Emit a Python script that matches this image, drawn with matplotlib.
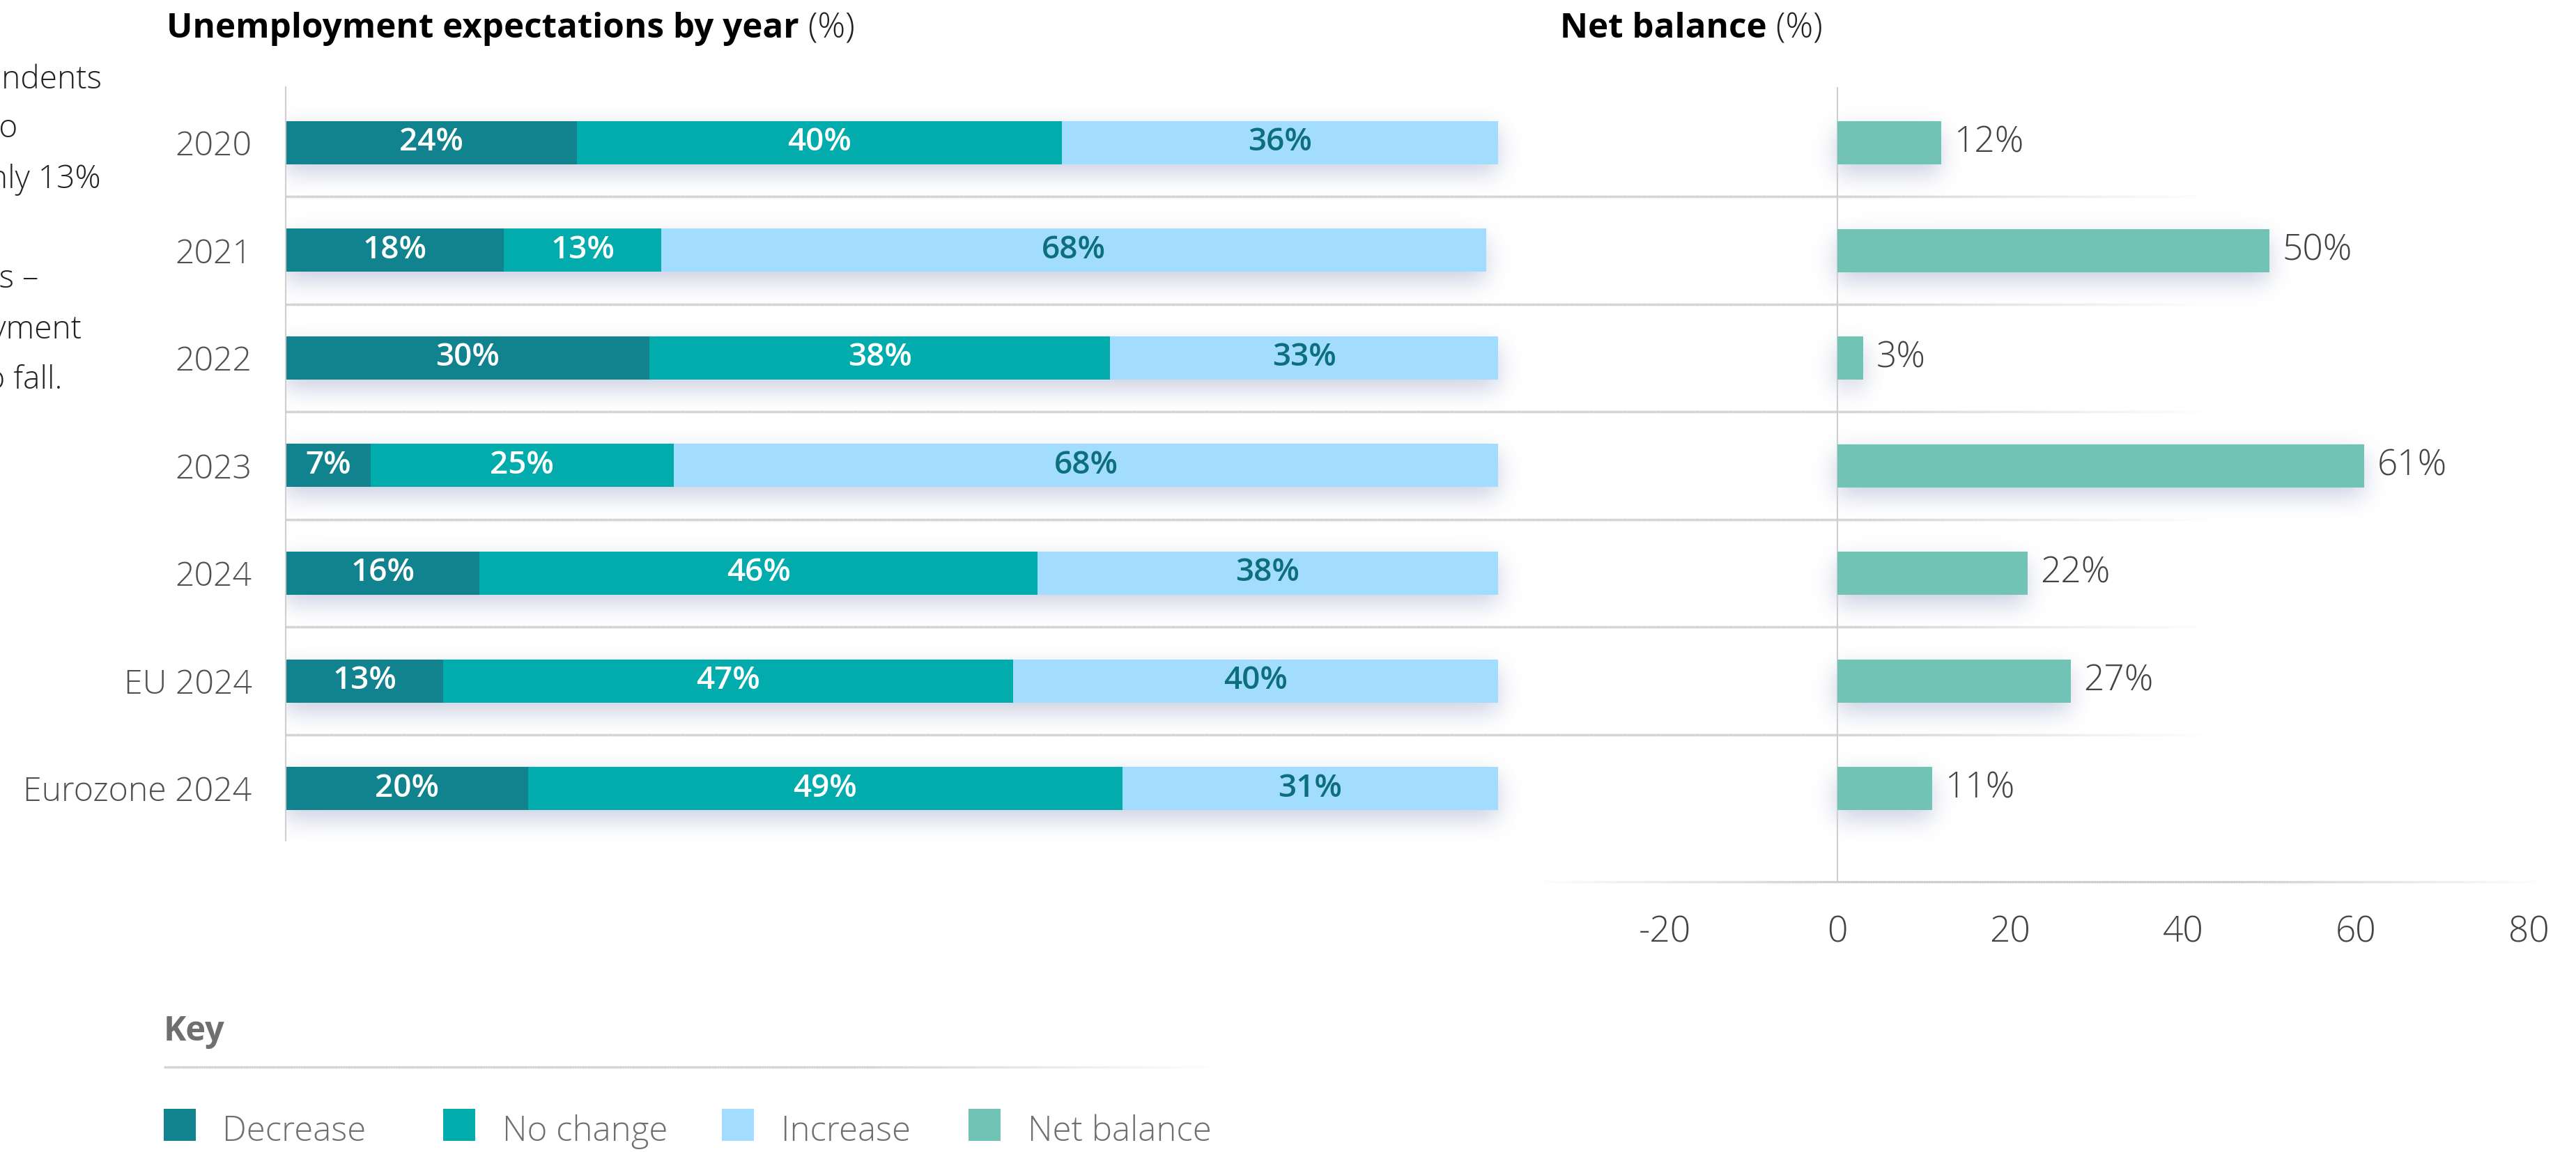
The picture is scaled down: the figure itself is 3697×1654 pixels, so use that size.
import numpy as np
import matplotlib
matplotlib.use("Agg")
import matplotlib.pyplot as plt
from matplotlib.collections import LineCollection
from matplotlib.colors import to_rgba
from matplotlib.patches import Rectangle

# ---- data -------------------------------------------------------------
categories = ["2020", "2021", "2022", "2023", "2024", "EU 2024", "Eurozone 2024"]
decrease = [24, 18, 30, 7, 16, 13, 20]
no_change = [40, 13, 38, 25, 46, 47, 49]
increase = [36, 68, 33, 68, 38, 40, 31]
net_balance = [12, 50, 3, 61, 22, 27, 11]
net_ticks = [-20, 0, 20, 40, 60, 80]
legend_labels = ["Decrease", "No change", "Increase", "Net balance"]

# ---- style ------------------------------------------------------------
C_DEC = "#10838F"
C_NOC = "#02ACAD"
C_INC = "#A2DCFE"
C_NET = "#71C3B5"
C_INC_TXT = "#0C6F7B"
GRID = "#D3D3D3"
AXLINE = "#CFCFCF"
FONT = "Open Sans"

W, H, DPI = 3698, 1654, 200
fig = plt.figure(figsize=(W / DPI, H / DPI), dpi=DPI)
fig.patch.set_facecolor("white")


def fx(x):
    return x / W


def fy(y):
    return 1 - y / H


# background layer in pixel coordinates (shadows, rules)
bg = fig.add_axes([0, 0, 1, 1], zorder=0)
bg.set_xlim(0, W)
bg.set_ylim(H, 0)
bg.axis("off")

ROW = 154.5
Y0 = 205
BAR_H = 62 / ROW

# ---- left panel: stacked shares (clipped at 100%) ---------------------
ax = fig.add_axes([fx(410), fy(1207), (2150 - 410) / W, (1207 - 125) / H], zorder=2)
ax.patch.set_alpha(0)
ax.set_xlim(0, 100)
ax.set_ylim((1207 - Y0) / ROW, -(Y0 - 125) / ROW)

y = np.arange(len(categories))
dec = np.array(decrease, float)
noc = np.array(no_change, float)
inc = np.array(increase, float)

b1 = ax.barh(y, dec, height=BAR_H, color=C_DEC, linewidth=0)
b2 = ax.barh(y, noc, left=dec, height=BAR_H, color=C_NOC, linewidth=0)
b3 = ax.barh(y, inc, left=dec + noc, height=BAR_H, color=C_INC, linewidth=0)

lab_kw = dict(ha="center", va="center", fontsize=16.5, family=FONT, fontweight="semibold")
for i in range(len(categories)):
    inc_end = min(dec[i] + noc[i] + inc[i], 100)
    ax.text(dec[i] / 2, y[i], f"{decrease[i]}%", color="white", **lab_kw)
    ax.text(dec[i] + noc[i] / 2, y[i], f"{no_change[i]}%", color="white", **lab_kw)
    ax.text((dec[i] + noc[i] + inc_end) / 2, y[i], f"{increase[i]}%", color=C_INC_TXT, **lab_kw)

ax.set_yticks(y)
ax.set_yticklabels(categories, family=FONT, fontweight="light", fontsize=17.4, color="#505050")
ax.tick_params(axis="y", length=0, pad=17.5)
ax.set_xticks([])
for s in ["top", "right", "bottom"]:
    ax.spines[s].set_visible(False)
ax.spines["left"].set_color(AXLINE)
ax.spines["left"].set_linewidth(0.75)

# ---- right panel: net balance ----------------------------------------
ZERO_X = 2637
PX_PER_UNIT = 12.4
ax2 = fig.add_axes([fx(2200), fy(1266), (3655 - 2200) / W, (1266 - 125) / H], zorder=2)
ax2.patch.set_alpha(0)
ax2.set_xlim((2200 - ZERO_X) / PX_PER_UNIT, (3655 - ZERO_X) / PX_PER_UNIT)
ax2.set_ylim((1266 - Y0) / ROW, -(Y0 - 125) / ROW)
b4 = ax2.barh(y, net_balance, height=BAR_H, color=C_NET, linewidth=0)
for i, v in enumerate(net_balance):
    ax2.annotate(f"{v}%", xy=(v, y[i]), xytext=(6.5, 0), textcoords="offset points",
                 ha="left", va="center", fontsize=18.5, family=FONT,
                 fontweight="light", color="#444444")
ax2.axvline(0, color=AXLINE, lw=0.75, zorder=0)
ax2.set_yticks([])
ax2.set_xticks(net_ticks)
ax2.set_xticklabels([str(t) for t in net_ticks], family=FONT, fontweight="light",
                    fontsize=18.5, color="#444444")
ax2.tick_params(axis="x", length=0, pad=17)
for s in ax2.spines.values():
    s.set_visible(False)


# ---- rules ------------------------------------------------------------
def faded_hline(yp, x0, x1, fade_in, fade_out, color, lw, n=400, z=3):
    xs = np.linspace(x0, x1, n + 1)
    mid = (xs[:-1] + xs[1:]) / 2
    a = np.ones(n)
    if fade_in:
        a = np.minimum(a, np.clip((mid - x0) / fade_in, 0, 1))
    if fade_out:
        a = np.minimum(a, np.clip((x1 - mid) / fade_out, 0, 1))
    segs = [[(xs[k], yp), (xs[k + 1], yp)] for k in range(n)]
    cols = [to_rgba(color, ak) for ak in a]
    bg.add_collection(LineCollection(segs, colors=cols, linewidths=lw,
                                     capstyle="butt", zorder=z))


fig.canvas.draw()
for i in range(len(categories) - 1):
    yp = H - ax.transData.transform((0, i + 0.5))[1]
    faded_hline(yp, 410, 3170, 0, 520, GRID, 1.25)

yb = H - ax2.transAxes.transform((0, 0))[1]
faded_hline(yb, 2200, 3655, 450, 450, "#CCCCCC", 1.2)

# ---- soft drop shadows beneath the bars ------------------------------
S = 2
h, w = H // S, W // S
PAD = 60
mask_l = np.zeros((h + 2 * PAD, w + 2 * PAD))
mask_r = np.zeros_like(mask_l)
OFF = 14
left_bb = ax.get_window_extent()
for bars, m, clip in ((b1, mask_l, True), (b2, mask_l, True), (b3, mask_l, True),
                      (b4, mask_r, False)):
    for p in bars:
        bb = p.get_window_extent()
        x0, x1 = bb.x0, bb.x1
        if clip:
            x1 = min(x1, left_bb.x1)
        x0, x1 = x0 / S, x1 / S
        t, b = (H - bb.y1 + OFF) / S, (H - bb.y0 + OFF) / S
        m[int(t) + PAD:int(b) + PAD, int(x0) + PAD:int(x1) + PAD] = 1.0


def blur(m, sigma):
    fy_ = np.fft.fftfreq(m.shape[0])[:, None]
    fx_ = np.fft.rfftfreq(m.shape[1])[None, :]
    k = np.exp(-2 * np.pi ** 2 * sigma ** 2 * (fx_ ** 2 + fy_ ** 2))
    return np.fft.irfft2(np.fft.rfft2(m) * k, s=m.shape)


sh_l = blur(mask_l, 17 / S)[PAD:PAD + h, PAD:PAD + w]
sh_l[:, :int(411 / S)] = 0
sh_r = blur(mask_r, 17 / S)[PAD:PAD + h, PAD:PAD + w]
shadow = np.clip(sh_l + sh_r, 0, 1)
rgba = np.zeros((h, w, 4))
rgba[..., 0] = 45 / 255
rgba[..., 1] = 65 / 255
rgba[..., 2] = 140 / 255
rgba[..., 3] = 0.25 * shadow
bg.imshow(rgba, extent=(0, W, H, 0), aspect="auto", interpolation="bilinear", zorder=1)
bg.set_xlim(0, W)
bg.set_ylim(H, 0)

# ---- titles -----------------------------------------------------------
t1 = fig.text(fx(239), fy(54), "Unemployment expectations by year", family=FONT,
              fontweight="bold", fontsize=17.8, color="black", va="baseline", ha="left")
fig.canvas.draw()
bb = t1.get_window_extent()
fig.text(bb.x1 / W, fy(54), " (%)", family=FONT, fontweight="light", fontsize=17.8,
         color="#222222", va="baseline", ha="left")
t2 = fig.text(fx(2239), fy(54), "Net balance", family=FONT, fontweight="bold",
              fontsize=17.8, color="black", va="baseline", ha="left")
fig.canvas.draw()
bb2 = t2.get_window_extent()
fig.text(bb2.x1 / W, fy(54), " (%)", family=FONT, fontweight="light", fontsize=17.8,
         color="#222222", va="baseline", ha="left")

# ---- commentary column running off the left edge ---------------------
side_lines = [("respondents", 147, 127), ("to", 26, 197), ("only 13%", 145, 270),
              ("expectations –", 55, 413), ("unemployment", 117, 486), ("to fall.", 89, 558)]
for txt, xr, yb_ in side_lines:
    fig.text(fx(xr), fy(yb_), txt, family=FONT, fontweight="light", fontsize=16.6,
             color="#222222", ha="right", va="baseline")

# ---- key --------------------------------------------------------------
fig.text(fx(235), fy(1494), "Key", family=FONT, fontweight="bold", fontsize=17.5,
         color="#6D6F71", va="baseline", ha="left")
faded_hline(1532, 235, 1745, 0, 500, GRID, 1.2)
key_cols = [C_DEC, C_NOC, C_INC, C_NET]
key_sq_x = [235, 636, 1036, 1390]
key_txt_x = [319, 721, 1121, 1475]
for lab, col, sx, tx in zip(legend_labels, key_cols, key_sq_x, key_txt_x):
    fig.patches.append(Rectangle((fx(sx), fy(1638)), 46 / W, 46 / H,
                                 transform=fig.transFigure, color=col, lw=0))
    fig.text(fx(tx), fy(1638), lab, family=FONT, fontweight="light", fontsize=17.7,
             color="#6D6F71", va="baseline", ha="left")

fig.savefig("out.png", dpi=DPI, facecolor="white")
